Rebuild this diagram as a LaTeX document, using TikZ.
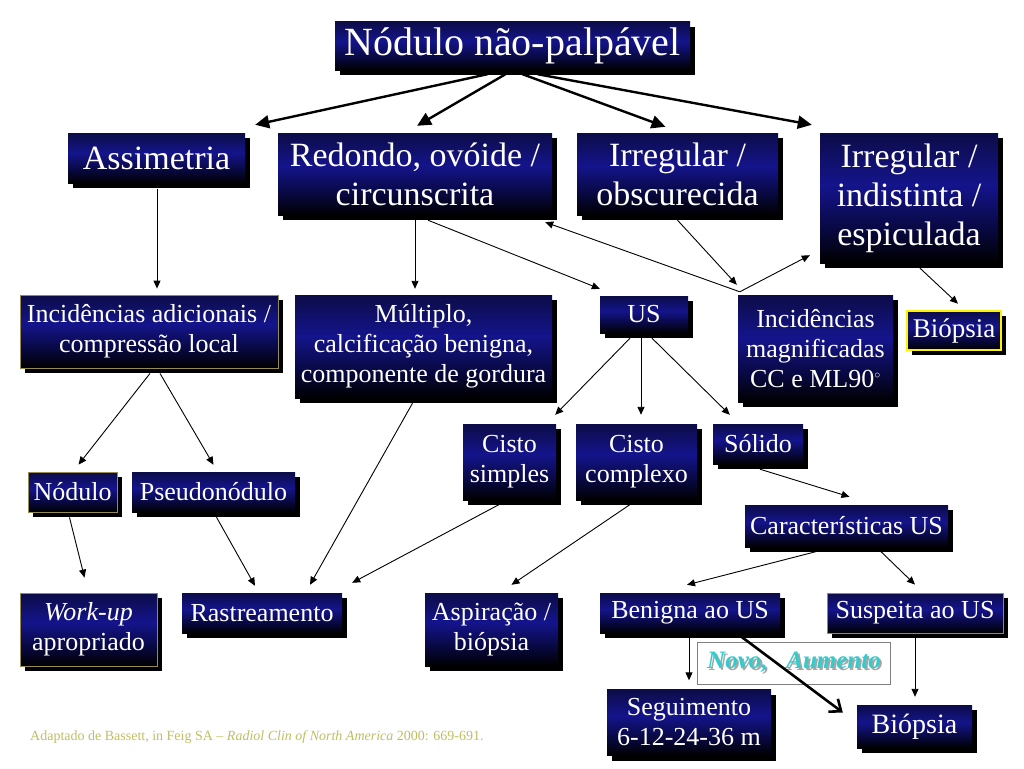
\documentclass[tikz,border=0pt]{standalone}
\usepackage{fontspec}
\setmainfont{Liberation Serif}
\usetikzlibrary{shadows,calc,arrows.meta}
\definecolor{navytop}{RGB}{12,12,72}
\definecolor{navymid}{RGB}{20,20,140}
\definecolor{navylow}{RGB}{8,8,64}
\definecolor{edgegold}{RGB}{150,140,80}
\definecolor{novocyan}{RGB}{51,204,204}
\definecolor{footcol}{RGB}{190,190,100}
\pgfdeclareverticalshading{boxshade}{100bp}{color(0bp)=(black); color(25bp)=(black); color(38bp)=(navylow); color(55bp)=(navymid); color(75bp)=(navytop); color(100bp)=(navytop)}
\tikzset{
  box/.style={shading=boxshade, text=white, align=center, inner sep=0pt,
    drop shadow={shadow xshift=5pt, shadow yshift=-5pt, fill=black, opacity=1}},
  big/.style={box, font=\fontsize{40}{46}\selectfont},
  lvtwo/.style={box, font=\fontsize{34}{39}\selectfont},
  lvthree/.style={box, font=\fontsize{26}{30}\selectfont},
  goldedge/.style={draw=edgegold, line width=0.8pt},
  yelledge/.style={draw=yellow, line width=2.5pt},
  thick arrow/.style={line width=2.4pt, -{Triangle[length=14pt,width=13pt]}},
  thin arrow/.style={line width=0.9pt, -{Triangle[length=8pt,width=7pt]}},
  bold arrow/.style={line width=2.6pt, -{Straight Barb[length=10pt,width=16pt]}},
}
\begin{document}
\begin{tikzpicture}[x=1pt,y=-1pt]
\fill[white] (0,0) rectangle (1024,768);
\useasboundingbox (0,0) rectangle (1024,768);

\node[big, minimum width=355pt, minimum height=48pt] (top) at (512.5,46) {Nódulo não-palpável};

\node[lvtwo, minimum width=177pt, minimum height=50pt] (assim) at (156.5,158) {Assimetria};
\node[lvtwo, minimum width=274pt, minimum height=82pt] (redondo) at (415,174) {Redondo, ovóide /\\circunscrita};
\node[lvtwo, minimum width=201pt, minimum height=82pt] (irrobs) at (677.5,174) {Irregular /\\obscurecida};
\node[lvtwo, minimum width=178pt, minimum height=130pt] (irrind) at (909,198) {Irregular /\\indistinta /\\espiculada};

\node[lvthree, goldedge, minimum width=258pt, minimum height=73pt] (incad) at (149,331.5) {Incidências adicionais /\\compressão local};
\node[lvthree, minimum width=257pt, minimum height=103pt] (mult) at (423.5,346.5) {Múltiplo,\\calcificação benigna,\\componente de gordura};
\node[lvthree, minimum width=88pt, minimum height=37pt] (us) at (644,314.5) {US};
\node[lvthree, minimum width=155pt, minimum height=107pt] (incmag) at (815.5,348.5) {Incidências\\magnificadas\\CC e ML90$^{\scriptscriptstyle\circ}$};
\node[lvthree, yelledge, font=\fontsize{27}{32}\selectfont, minimum width=94pt, minimum height=39pt] (biopa) at (954,330.5) {Biópsia};

\node[lvthree, minimum width=93pt, minimum height=76pt] (cistos) at (509.5,462) {Cisto\\simples};
\node[lvthree, minimum width=121pt, minimum height=76pt] (cistoc) at (636.5,462) {Cisto\\complexo};
\node[lvthree, minimum width=90pt, minimum height=40pt] (solido) at (758,444) {Sólido};

\node[lvthree, goldedge, minimum width=89pt, minimum height=40pt] (nodulo) at (72.5,492) {Nódulo};
\node[lvthree, minimum width=163pt, minimum height=40pt] (pseudo) at (213.5,492) {Pseudonódulo};
\node[lvthree, minimum width=203pt, minimum height=42pt] (caract) at (846.5,526) {Características US};

\node[lvthree, goldedge, minimum width=137pt, minimum height=73pt] (workup) at (88.5,629.5) {\textit{Work-up}\\apropriado};
\node[lvthree, minimum width=160pt, minimum height=40pt] (rastr) at (262,613) {Rastreamento};
\node[lvthree, minimum width=133pt, minimum height=73pt] (aspir) at (491.5,629.5) {Aspiração /\\biópsia};
\node[lvthree, minimum width=180pt, minimum height=40pt] (benigna) at (690,613) {Benigna ao US};
\node[lvthree, goldedge, minimum width=176pt, minimum height=40pt] (suspeita) at (915,613) {Suspeita ao US};

\node[draw=gray, line width=0.8pt, fill=white, minimum width=193pt, minimum height=42pt, inner sep=0pt,
  font=\fontsize{25}{30}\selectfont\bfseries\itshape] (novo) at (794,663)
  {\makebox[0pt][l]{\hspace{2pt}\raisebox{-2pt}{\color{gray!70}Novo,~~~Aumento}}\color{novocyan}Novo,~~~Aumento};

\node[lvthree, minimum width=164pt, minimum height=66pt] (seguim) at (689,722.5) {Seguimento\\6-12-24-36 m};
\node[lvthree, font=\fontsize{28}{33}\selectfont, minimum width=115pt, minimum height=43pt] (biopb) at (914.5,726.5) {Biópsia};

\node[anchor=west, inner sep=0pt, text=footcol, font=\fontsize{14}{16}\selectfont] (foot) at (30,737)
  {Adaptado de Bassett, in Feig SA -- \textit{Radiol Clin of North America} 2000: 669-691.};

% thick arrows from top
\draw[thick arrow] ($(top.south)+(-25,4)$) -- ($(assim.north east)+(10,-8)$);
\draw[thick arrow] ($(top.south)+(-7,4)$) -- ($(redondo.north)+(2,-7)$);
\draw[thick arrow] ($(top.south)+(10,4)$) -- ($(irrobs.north)+(-12,-6)$);
\draw[thick arrow] ($(top.south)+(25,4)$) -- ($(irrind.north west)+(-8,-8)$);

% thin arrows
\coordinate (mj) at ($(incmag.north west)+(2,-3)$);
\draw[thin arrow] ($(assim.south)+(0.5,6)$) -- ($(incad.north)+(8,-6)$);
\draw[thin arrow] ($(redondo.south)+(0,5)$) -- ($(mult.north)+(-8.5,-6)$);
\draw[thin arrow] ($(redondo.south)+(13,5)$) -- ($(us.north west)+(0,-7)$);
\draw[thin arrow] (mj) -- ($(redondo.south east)+(-7,7)$);
\draw[thin arrow] ($(irrobs.south)+(0,5)$) -- ($(incmag.north west)+(-1,-10)$);
\draw[thin arrow] (mj) -- ($(irrind.south west)+(-10,-8)$);
\draw[thin arrow] ($(irrind.south)+(11,5)$) -- ($(biopa.north)+(4,-6)$);
\draw[thin arrow] ($(incad.south)+(1,5)$) -- ($(nodulo.north)+(6,-7)$);
\draw[thin arrow] ($(incad.south)+(11,5)$) -- ($(pseudo.north)+(0,-7)$);
\draw[thin arrow] ($(mult.south)+(-11,5)$) -- ($(rastr.north)+(48,-8)$);
\draw[thin arrow] ($(us.south)+(-14,5)$) -- ($(cistos.north east)+(-1,-9)$);
\draw[thin arrow] ($(us.south)+(-3,5)$) -- ($(cistoc.north)+(4.5,-9)$);
\draw[thin arrow] ($(us.south)+(8,5)$) -- ($(solido.north west)+(17,-9)$);
\draw[thin arrow] ($(nodulo.south)+(-3,5)$) -- ($(workup.north)+(-4,-15)$);
\draw[thin arrow] ($(pseudo.south)+(3,5)$) -- ($(rastr.north)+(-7,-7)$);
\draw[thin arrow] ($(cistos.south)+(-6,2)$) -- ($(rastr.north east)+(10,-10)$);
\draw[thin arrow] ($(cistoc.south)+(-3,2)$) -- ($(aspir.north)+(20,-8)$);
\draw[thin arrow] ($(solido.south)+(2,5)$) -- ($(caract.north)+(3,-8)$);
\draw[thin arrow] ($(caract.south)+(-25,3)$) -- ($(benigna.north)+(-3,-8)$);
\draw[thin arrow] ($(caract.south)+(33,3)$) -- ($(suspeita.north)+(0,-8)$);
\draw[thin arrow] ($(benigna.south)+(-1,5)$) -- ($(seguim.north)+(0,-9)$);
\draw[thin arrow] ($(suspeita.south)+(0,5)$) -- ($(biopb.north)+(0.5,-8)$);
\draw[bold arrow] ($(benigna.south)+(52,4)$) -- ($(biopb.west)+(-14,-14)$);
\end{tikzpicture}
\end{document}
